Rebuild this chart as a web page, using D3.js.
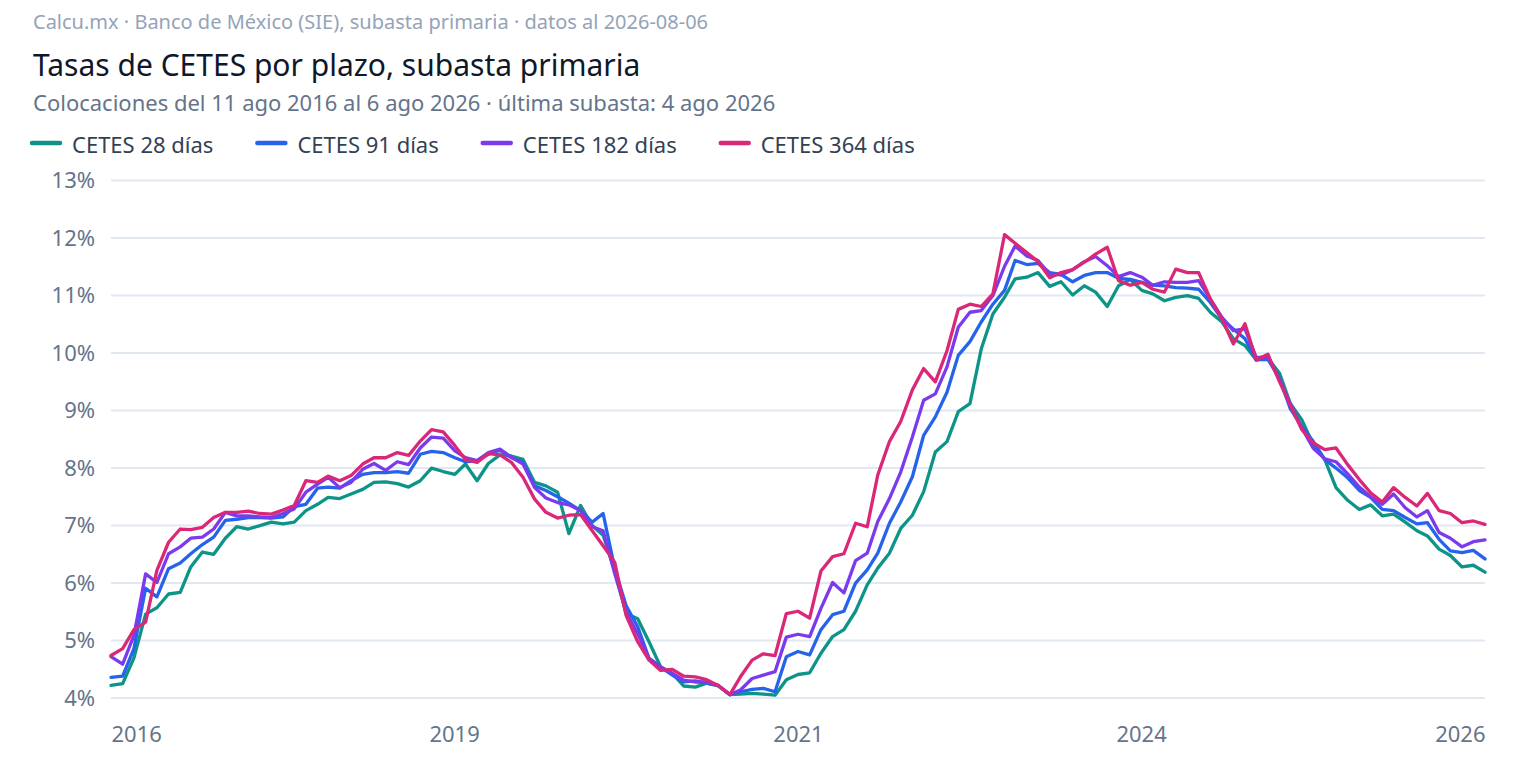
<!DOCTYPE html>
<html>
<head>
<meta charset="utf-8">
<script src="https://cdn.jsdelivr.net/npm/d3@7"></script>
<style>
  body { margin: 0; background: #ffffff; }
  svg { display: block; font-family: "Noto Sans", "Open Sans", sans-serif; }
</style>
</head>
<body>
<div id="chart"></div>
<script>
// Monthly samples (rate, %), first month = first auction
var startDate = "2016-08-11";

var seriesNames = ["CETES 28 días", "CETES 91 días", "CETES 182 días", "CETES 364 días"];

var cetes28 = [
  4.21, 4.24, 4.69, 5.45, 5.56, 5.80, 5.83, 6.27, 6.53, 6.49,
  6.77, 6.97, 6.93, 6.99, 7.05, 7.02, 7.05, 7.25, 7.36, 7.48,
  7.46, 7.54, 7.62, 7.74, 7.75, 7.72, 7.66, 7.77, 7.99, 7.93,
  7.88, 8.06, 7.77, 8.07, 8.22, 8.20, 8.14, 7.74, 7.68, 7.57,
  6.85, 7.34, 6.99, 6.82, 6.21, 5.46, 5.37, 4.97, 4.53, 4.42,
  4.20, 4.18, 4.25, 4.20, 4.05, 4.06, 4.07, 4.06, 4.04, 4.31,
  4.40, 4.43, 4.77, 5.06, 5.18, 5.50, 5.96, 6.25, 6.51, 6.94,
  7.17, 7.58, 8.27, 8.45, 8.97, 9.11, 10.06, 10.67, 10.96, 11.28,
  11.31, 11.39, 11.15, 11.23, 11.00, 11.16, 11.05, 10.80, 11.16, 11.27,
  11.08, 11.02, 10.90, 10.96, 10.99, 10.94, 10.70, 10.53, 10.24, 10.12,
  9.87, 9.90, 9.64, 9.12, 8.83, 8.40, 8.14, 7.65, 7.43, 7.27,
  7.35, 7.16, 7.19, 7.05, 6.90, 6.81, 6.58, 6.47, 6.27, 6.30,
  6.18
];

var cetes91 = [
  4.35, 4.37, 4.85, 5.90, 5.75, 6.24, 6.34, 6.50, 6.66, 6.79,
  7.08, 7.10, 7.13, 7.13, 7.12, 7.14, 7.32, 7.36, 7.64, 7.66,
  7.64, 7.77, 7.88, 7.91, 7.91, 7.93, 7.90, 8.23, 8.28, 8.26,
  8.17, 8.10, 8.12, 8.23, 8.30, 8.17, 8.09, 7.68, 7.60, 7.49,
  7.38, 7.25, 7.05, 7.20, 6.24, 5.60, 5.23, 4.68, 4.53, 4.39,
  4.27, 4.29, 4.25, 4.21, 4.05, 4.10, 4.14, 4.16, 4.10, 4.71,
  4.80, 4.74, 5.18, 5.44, 5.50, 5.99, 6.22, 6.51, 7.03, 7.40,
  7.84, 8.56, 8.88, 9.31, 9.95, 10.19, 10.53, 10.84, 11.08, 11.60,
  11.53, 11.55, 11.39, 11.36, 11.23, 11.34, 11.39, 11.39, 11.29, 11.27,
  11.22, 11.17, 11.16, 11.13, 11.12, 11.10, 10.87, 10.58, 10.41, 10.24,
  9.87, 9.88, 9.55, 9.03, 8.71, 8.46, 8.14, 7.99, 7.82, 7.60,
  7.48, 7.27, 7.25, 7.13, 7.02, 7.04, 6.75, 6.55, 6.52, 6.56,
  6.41
];

var cetes182 = [
  4.71, 4.58, 5.08, 6.15, 6.00, 6.50, 6.62, 6.77, 6.79, 6.93,
  7.22, 7.16, 7.16, 7.14, 7.13, 7.20, 7.28, 7.57, 7.71, 7.83,
  7.65, 7.74, 7.97, 8.07, 7.95, 8.10, 8.05, 8.34, 8.53, 8.51,
  8.29, 8.17, 8.12, 8.26, 8.32, 8.18, 8.06, 7.65, 7.47, 7.39,
  7.35, 7.25, 6.97, 6.90, 6.15, 5.49, 5.11, 4.68, 4.53, 4.42,
  4.30, 4.27, 4.27, 4.21, 4.05, 4.13, 4.33, 4.39, 4.45, 5.05,
  5.10, 5.06, 5.55, 6.00, 5.82, 6.38, 6.51, 7.06, 7.46, 7.92,
  8.53, 9.17, 9.28, 9.75, 10.44, 10.70, 10.73, 10.99, 11.50, 11.85,
  11.68, 11.60, 11.36, 11.35, 11.44, 11.58, 11.67, 11.51, 11.32, 11.39,
  11.31, 11.17, 11.23, 11.22, 11.22, 11.25, 10.93, 10.61, 10.38, 10.41,
  9.91, 9.93, 9.52, 9.12, 8.69, 8.34, 8.15, 8.10, 7.89, 7.66,
  7.49, 7.36, 7.54, 7.30, 7.14, 7.25, 6.87, 6.77, 6.62, 6.71,
  6.74
];

var cetes364 = [
  4.73, 4.85, 5.18, 5.31, 6.21, 6.70, 6.93, 6.92, 6.96, 7.13,
  7.22, 7.22, 7.24, 7.20, 7.19, 7.26, 7.34, 7.77, 7.74, 7.85,
  7.77, 7.86, 8.06, 8.17, 8.17, 8.26, 8.21, 8.46, 8.66, 8.62,
  8.38, 8.14, 8.09, 8.24, 8.22, 8.09, 7.83, 7.45, 7.22, 7.12,
  7.17, 7.18, 6.90, 6.64, 6.35, 5.43, 4.97, 4.65, 4.47, 4.49,
  4.37, 4.36, 4.31, 4.21, 4.05, 4.36, 4.65, 4.76, 4.73, 5.46,
  5.50, 5.38, 6.20, 6.45, 6.50, 7.03, 6.97, 7.87, 8.45, 8.80,
  9.35, 9.72, 9.49, 10.03, 10.75, 10.84, 10.80, 11.02, 12.05, 11.90,
  11.74, 11.58, 11.30, 11.39, 11.44, 11.57, 11.71, 11.83, 11.25, 11.17,
  11.22, 11.10, 11.05, 11.45, 11.39, 11.39, 10.93, 10.58, 10.15, 10.50,
  9.87, 9.97, 9.49, 9.09, 8.66, 8.43, 8.31, 8.34, 8.05, 7.79,
  7.56, 7.40, 7.65, 7.48, 7.33, 7.55, 7.25, 7.20, 7.04, 7.07,
  7.01
];

// Axis ticks
var yTicks = [4, 5, 6, 7, 8, 9, 10, 11, 12, 13];
var xTickDates = ["2016-08-11", "2019-02-09", "2021-08-11", "2024-02-09", "2026-08-11"];
var xTickLabels = ["2016", "2019", "2021", "2024", "2026"];

// Line colours, same order as seriesNames
var seriesColors = ["#0d9488", "#2563eb", "#7c3aed", "#db2777"];

// SVG area
var svgWidth = 1520;
var svgHeight = 762;

var margin = {
  top: 180,
  right: 35,
  bottom: 64.5,
  left: 111
};

var chartWidth = svgWidth - margin.left - margin.right;
var chartHeight = svgHeight - margin.top - margin.bottom;

var svg = d3.select("#chart")
  .append("svg")
  .attr("width", svgWidth)
  .attr("height", svgHeight);

svg.append("rect")
  .attr("width", svgWidth)
  .attr("height", svgHeight)
  .attr("fill", "#ffffff");

// Header texts
svg.append("text")
  .attr("x", 33)
  .attr("y", 29)
  .attr("font-size", "20px")
  .attr("fill", "#94a3b8")
  .text("Calcu.mx · Banco de México (SIE), subasta primaria · datos al 2026-08-06");

svg.append("text")
  .attr("x", 33)
  .attr("y", 76)
  .attr("font-size", "30px")
  .attr("fill", "#0f172a")
  .text("Tasas de CETES por plazo, subasta primaria");

svg.append("text")
  .attr("x", 33)
  .attr("y", 111)
  .attr("font-size", "22px")
  .attr("fill", "#64748b")
  .text("Colocaciones del 11 ago 2016 al 6 ago 2026 · última subasta: 4 ago 2026");

// Legend
var legend = svg.append("g").attr("transform", "translate(30, 146)");
var legendX = 0;
seriesNames.forEach(function(name, i) {
  var item = legend.append("g").attr("transform", `translate(${legendX}, 0)`);
  item.append("line")
    .attr("x1", 2).attr("x2", 30)
    .attr("y1", -3).attr("y2", -3)
    .attr("stroke", seriesColors[i])
    .attr("stroke-width", 4.5)
    .attr("stroke-linecap", "round");
  var label = item.append("text")
    .attr("x", 42)
    .attr("y", 0)
    .attr("dy", "0.33em")
    .attr("font-size", "22px")
    .attr("fill", "#334155")
    .text(name);
  legendX += 42 + label.node().getComputedTextLength() + 42;
});

var chartGroup = svg.append("g")
  .attr("transform", `translate(${margin.left}, ${margin.top})`);

var parseDate = d3.timeParse("%Y-%m-%d");
var firstDate = parseDate(startDate);
var dates = cetes28.map((d, i) => d3.timeMonth.offset(firstDate, i));

var xScale = d3.scaleTime()
  .range([0, chartWidth])
  .domain(d3.extent(dates));

var yScale = d3.scaleLinear()
  .range([chartHeight, 0])
  .domain([4, 13]);

// Horizontal grid + y labels
var leftAxis = d3.axisLeft(yScale)
  .tickValues(yTicks)
  .tickSize(-chartWidth)
  .tickPadding(16)
  .tickFormat(d => d + "%");

var yAxisGroup = chartGroup.append("g").call(leftAxis);
yAxisGroup.select(".domain").remove();
yAxisGroup.selectAll("line")
  .attr("stroke", "#e2e8f0")
  .attr("stroke-width", 2);
yAxisGroup.selectAll("text")
  .attr("font-size", "22px")
  .attr("font-family", "Noto Sans, sans-serif")
  .attr("fill", "#64748b")
  .attr("dy", "0.36em");

// Bottom axis, labels only
var bottomAxis = d3.axisBottom(xScale)
  .tickValues(xTickDates.map(parseDate))
  .tickSize(0)
  .tickPadding(29)
  .tickFormat((d, i) => xTickLabels[i]);

var xAxisGroup = chartGroup.append("g")
  .attr("transform", `translate(0, ${chartHeight})`)
  .call(bottomAxis);
xAxisGroup.select(".domain").remove();
xAxisGroup.selectAll("text")
  .attr("font-size", "22px")
  .attr("font-family", "Noto Sans, sans-serif")
  .attr("fill", "#64748b")
  .attr("text-anchor", (d, i) => i === 0 ? "start" : (i === xTickLabels.length - 1 ? "end" : "middle"));

// Lines
var allSeries = [cetes28, cetes91, cetes182, cetes364];

var line = d3.line()
  .x((d, i) => xScale(dates[i]))
  .y(d => yScale(d));

chartGroup.append("g")
  .selectAll("path")
  .data(allSeries)
  .enter()
  .append("path")
  .attr("d", d => line(d))
  .attr("fill", "none")
  .attr("stroke", (d, i) => seriesColors[i])
  .attr("stroke-width", 3.3)
  .attr("stroke-linejoin", "round")
  .attr("stroke-linecap", "round");
</script>
</body>
</html>
